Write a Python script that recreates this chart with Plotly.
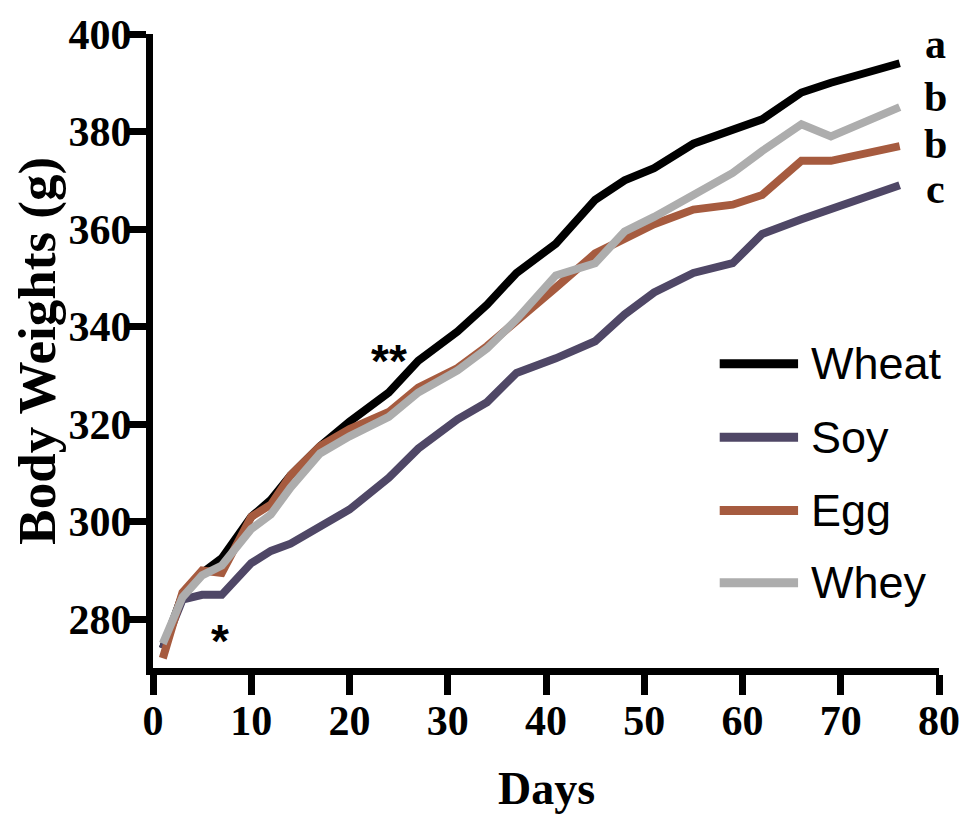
import plotly.graph_objects as go

# Body weight (g) of each diet group over the feeding period
days = [1, 3, 5, 7, 10, 12, 14, 17, 20, 24, 27, 31, 34, 37, 41, 45, 48, 51, 55, 59, 62, 66, 69, 76]

wheat = [274, 285, 289.5, 292.5, 301, 304.5, 309.5, 315.5, 320.5, 326.5, 333, 339, 344.5, 351,
         357, 366, 370, 372.5, 377.5, 380.5, 382.5, 388, 390, 394]
soy = [274, 284, 285, 285, 291.5, 294, 295.5, 299, 302.5, 309, 315, 321, 324.5, 330.5,
       333.5, 337, 342.5, 347, 351, 353, 359, 362, 364, 369]
egg = [272, 285.5, 290, 289.5, 301, 303.5, 309.5, 315.5, 319, 322.5, 327.5, 331.5, 336, 341,
       348, 355, 358, 361, 364, 365, 367, 374, 374, 377]
whey = [275, 284.5, 289, 291, 298.5, 301.5, 307, 314, 317.5, 321.5, 326.5, 331, 335.5, 341.5,
        350.5, 353, 359.5, 362.5, 367, 371.5, 376, 381.5, 379, 385]

series_names = ["Wheat", "Soy", "Egg", "Whey"]
series_values = [wheat, soy, egg, whey]
series_colors = ["#000000", "#4f4766", "#a65b3f", "#adadad"]

# Statistical group letters at the end of each curve
group_letters = ["a", "b", "b", "c"]
letter_levels = [398.0, 387.0, 377.5, 368.2]

# Significance marks
star_marks = [(6.8, 275.5, "*"), (24.0, 333.0, "**")]

x_ticks = list(range(0, 81, 10))
y_ticks = list(range(280, 401, 20))

SERIF = "Liberation Serif, Times New Roman, serif"
SANS = "Liberation Sans, Arial, sans-serif"

fig = go.Figure()
for name, vals, col in zip(series_names, series_values, series_colors):
    fig.add_trace(go.Scatter(
        x=days, y=vals, name=name, mode="lines",
        line=dict(color=col, width=8),
        showlegend=False,
    ))

axis_common = dict(
    showgrid=False, zeroline=False,
    showline=True, linewidth=7, linecolor="black",
    ticks="outside", ticklen=20, tickwidth=7, tickcolor="black",
    tickfont=dict(family=SERIF, size=42, color="black", weight="bold"),
)

fig.update_layout(
    width=972, height=818,
    margin=dict(l=153, r=27, t=27, b=150),
    paper_bgcolor="white", plot_bgcolor="white",
    xaxis=dict(range=[0, 80], tickvals=x_ticks, ticklabelstandoff=-10, **axis_common),
    yaxis=dict(range=[270, 400], tickvals=y_ticks, ticklabelstandoff=-14, **axis_common),
)

annotations = []

# Axis titles
annotations.append(dict(
    text="Days", xref="paper", yref="paper", x=0.5, y=-0.19,
    xanchor="center", yanchor="middle", showarrow=False,
    font=dict(family=SERIF, size=46, color="black", weight="bold"),
))
annotations.append(dict(
    text="Body Weights (g)", xref="paper", yref="paper", x=-0.148, y=0.5,
    xanchor="center", yanchor="middle", textangle=-90, showarrow=False,
    font=dict(family=SERIF, size=53, color="black", weight="bold"),
))

# Group letters
for letter, lvl in zip(group_letters, letter_levels):
    annotations.append(dict(
        text=letter, xref="paper", yref="y", x=0.995, y=lvl,
        xanchor="center", yanchor="middle", showarrow=False,
        font=dict(family=SERIF, size=42, color="black", weight="bold"),
    ))

# Significance stars
for sx, sy, txt in star_marks:
    annotations.append(dict(
        text=txt, xref="x", yref="y", x=sx, y=sy,
        xanchor="center", yanchor="middle", showarrow=False,
        font=dict(family=SANS, size=46, color="black", weight="bold"),
    ))

# Legend drawn as line samples with labels
legend_y = [0.4797, 0.3641, 0.2484, 0.1344]
shapes = []
for name, col, ly in zip(series_names, series_colors, legend_y):
    shapes.append(dict(
        type="line", xref="paper", yref="paper",
        x0=0.721, x1=0.8207, y0=ly, y1=ly,
        line=dict(color=col, width=9),
    ))
    annotations.append(dict(
        text=name, xref="paper", yref="paper", x=0.834, y=ly,
        xanchor="left", yanchor="middle", showarrow=False,
        font=dict(family=SANS, size=45, color="black"),
    ))

fig.update_layout(annotations=annotations, shapes=shapes)

fig.write_html("out.html")
